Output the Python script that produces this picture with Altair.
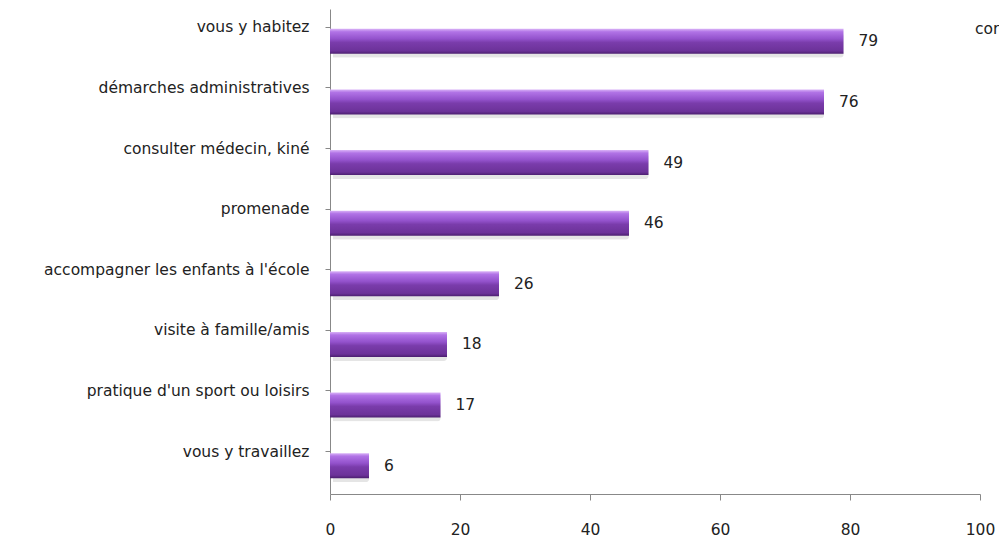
import altair as alt
import pandas as pd

categories = [
    "vous y habitez",
    "démarches administratives",
    "consulter médecin, kiné",
    "promenade",
    "accompagner les enfants à l'école",
    "visite à famille/amis",
    "pratique d'un sport ou loisirs",
    "vous y travaillez",
]
values = [79, 76, 49, 46, 26, 18, 17, 6]
x_ticks = [0, 20, 40, 60, 80, 100]

df = pd.DataFrame({"cat": categories, "val": values})

FONT = "DejaVu Sans"
TXT = "#222222"
FS = 15.5

grad = alt.Gradient(
    gradient="linear",
    x1=0, x2=0, y1=0, y2=1,
    stops=[
        alt.GradientStop(color="#d9b2f7", offset=0),
        alt.GradientStop(color="#b173e6", offset=0.12),
        alt.GradientStop(color="#9352cc", offset=0.4),
        alt.GradientStop(color="#7a3cab", offset=0.55),
        alt.GradientStop(color="#6c3299", offset=0.88),
        alt.GradientStop(color="#4c1f70", offset=1),
    ],
)

y_enc = alt.Y(
    "cat:N",
    sort=categories,
    scale=alt.Scale(paddingInner=0.6, paddingOuter=0.3),
    axis=alt.Axis(
        title=None,
        bandPosition=0,
        labelOffset=-12,
        labelPadding=16,
        labelFont=FONT,
        labelFontSize=FS,
        labelColor=TXT,
        labelLimit=400,
        tickSize=5,
        tickColor="#888888",
        domainColor="#888888",
        grid=False,
    ),
)
x_enc = alt.X(
    "val:Q",
    scale=alt.Scale(domain=[0, 100]),
    axis=alt.Axis(
        title=None,
        values=x_ticks,
        labelFlush=False,
        labelFont=FONT,
        labelFontSize=FS,
        labelColor=TXT,
        labelPadding=22,
        tickSize=6,
        tickColor="#888888",
        domainColor="#888888",
        grid=False,
    ),
)

base = alt.Chart(df)

shadow = base.mark_bar(
    color="#000000", opacity=0.1, size=25, xOffset=3, yOffset=6, cornerRadius=3
).encode(x=x_enc, y=y_enc)

bars = base.mark_bar(color=grad, size=25, yOffset=2).encode(x=x_enc, y=y_enc)

labels = base.mark_text(
    align="left", baseline="middle", dx=15, dy=2, font=FONT, fontSize=FS, color=TXT
).encode(x=x_enc, y=y_enc, text="val:Q")

note = alt.Chart(pd.DataFrame({"t": ["cor"]})).mark_text(
    align="left", baseline="middle", font=FONT, fontSize=FS, color=TXT
).encode(x=alt.value(645), y=alt.value(20), text="t:N")

chart = (
    alt.layer(shadow, bars, labels, note)
    .properties(
        width=650,
        height=485,
        autosize=alt.AutoSizeParams(type="none"),
        padding={"left": 330, "top": 9, "right": 19, "bottom": 46},
        background="white",
    )
    .configure_view(stroke=None)
)

chart.save("out.html", embed_options={"renderer": "svg", "actions": False})
